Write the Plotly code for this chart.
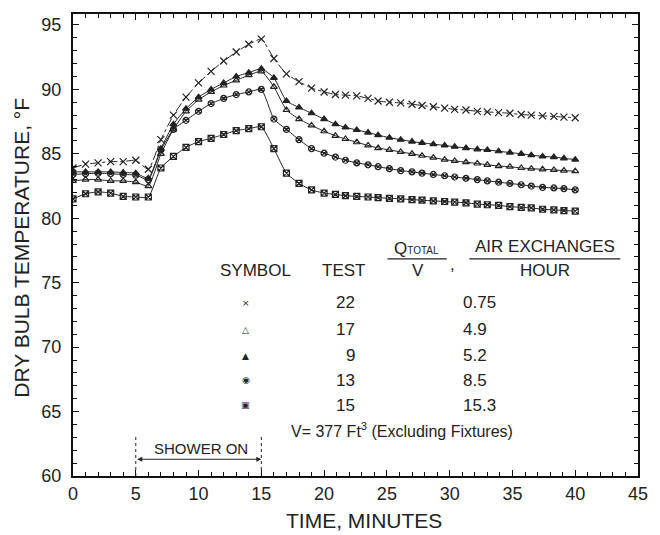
import plotly.graph_objects as go

# ---------------- data ----------------
time_min = [0, 1, 2, 3, 4, 5, 6, 7, 8, 9, 10, 11, 12, 13, 14, 15, 16, 17, 18, 19,
            20.0, 20.9, 21.7, 22.6, 23.5, 24.3, 25.2, 26.1, 27.0, 27.8, 28.7, 29.6,
            30.4, 31.3, 32.2, 33.0, 33.9, 34.8, 35.7, 36.5, 37.4, 38.3, 39.1, 40.0]

test22 = [83.9, 84.2, 84.3, 84.4, 84.4, 84.5, 83.8, 86.1, 88.0, 89.4, 90.5, 91.4, 92.2, 92.9, 93.5, 93.9,
          92.4, 91.2, 90.6, 90.1,
          89.8, 89.6, 89.55, 89.5, 89.3, 89.1, 89.0, 88.95, 88.85, 88.75, 88.65, 88.55,
          88.45, 88.4, 88.3, 88.25, 88.2, 88.15, 88.05, 88.0, 87.95, 87.9, 87.85, 87.8]

test9 = [83.6, 83.6, 83.6, 83.6, 83.55, 83.5, 83.1, 85.4, 87.3, 88.5, 89.4, 90.0, 90.5, 91.0, 91.3, 91.6,
         90.9, 89.1, 88.6, 88.15,
         87.7, 87.3, 87.05, 86.85, 86.65, 86.45, 86.25, 86.1, 85.95, 85.85, 85.75, 85.65,
         85.55, 85.45, 85.35, 85.3, 85.2, 85.1, 85.0, 84.9, 84.8, 84.75, 84.65, 84.55]

test17 = [82.9, 83.0, 83.0, 82.9, 82.9, 82.8, 82.5, 85.0, 86.9, 88.3, 89.2, 89.8, 90.3, 90.7, 91.1, 91.4,
          90.2, 88.4, 87.7, 87.2,
          86.75, 86.4, 86.15, 85.9, 85.65, 85.45, 85.3, 85.15, 85.0, 84.85, 84.7, 84.55,
          84.45, 84.35, 84.25, 84.15, 84.05, 84.0, 83.9, 83.85, 83.8, 83.75, 83.7, 83.65]

test13 = [83.4, 83.45, 83.5, 83.45, 83.4, 83.35, 83.0, 85.3, 86.9, 87.6, 88.3, 88.9, 89.3, 89.6, 89.8, 90.0,
          87.7, 86.9, 86.1, 85.4,
          85.05, 84.75, 84.5, 84.3, 84.15, 84.0, 83.85, 83.7, 83.6, 83.5, 83.4, 83.3,
          83.2, 83.1, 83.0, 82.9, 82.8, 82.7, 82.6, 82.5, 82.4, 82.35, 82.3, 82.2]

test15 = [81.5, 81.9, 82.05, 81.95, 81.7, 81.65, 81.65, 83.9, 84.8, 85.5, 85.95, 86.2, 86.5, 86.8, 86.95, 87.1,
          85.4, 83.5, 82.7, 82.2,
          81.95, 81.85, 81.75, 81.7, 81.65, 81.6, 81.55, 81.5, 81.45, 81.4, 81.35, 81.3,
          81.25, 81.2, 81.1, 81.05, 81.0, 80.9, 80.85, 80.8, 80.7, 80.65, 80.6, 80.55]

legend_tests = ["22", "17", "9", "13", "15"]
legend_ach = ["0.75", "4.9", "5.2", "8.5", "15.3"]
legend_symbols = ["×", "△", "▲", "◉", "▣"]

x_ticks = [0, 5, 10, 15, 20, 25, 30, 35, 40, 45]
y_ticks = [60, 65, 70, 75, 80, 85, 90, 95]

# ---------------- figure ----------------
INK = "#222222"
FONT = "Liberation Sans"
W, H = 660, 535
L, R, T, B = 73, 14, 12, 59


def px(xp):
    return (xp - L) / (W - L - R)


def py(yp):
    return (H - B - yp) / (H - T - B)


def label(text, xp, yp, size=17, xanchor="center", **kw):
    return dict(text=text, x=px(xp), y=py(yp), xref="paper", yref="paper",
                xanchor=xanchor, yanchor="middle", showarrow=False,
                font=dict(family=kw.pop("family", FONT), size=size, color=INK), **kw)


fig = go.Figure()

series = [
    (test22, "x-thin-open", "dashdot", 7),
    (test9, "triangle-up", "solid", 6),
    (test17, "triangle-up-open", "solid", 6),
    (test13, "circle-x-open", "solid", 6),
    (test15, "square-x-open", "solid", 6),
]
for vals, sym, dash, size in series:
    fig.add_trace(go.Scatter(
        x=time_min, y=vals, mode="lines+markers",
        line=dict(color=INK, width=1, dash=dash, shape="spline", smoothing=0.5),
        marker=dict(symbol=sym, size=size, color=INK, line=dict(color=INK, width=1.2)),
        showlegend=False, hoverinfo="skip"))

axis_common = dict(
    showgrid=False, zeroline=False, showline=True, linecolor="#111111", linewidth=2,
    mirror="allticks", ticks="inside", ticklen=6, tickwidth=1.2, tickcolor="#111111",
    tickfont=dict(family=FONT, size=18, color=INK),
    minor=dict(ticks="inside", ticklen=4, tickwidth=1, tickcolor="#111111", dtick=1, showgrid=False),
)

fig.update_xaxes(range=[0, 45], tickmode="array", tickvals=x_ticks,
                 ticktext=[str(v) for v in x_ticks], **axis_common)
fig.update_yaxes(range=[60, 95.85], tickmode="array", tickvals=y_ticks,
                 ticktext=[str(v) for v in y_ticks], ticklabelstandoff=6, **axis_common)

annotations = []
# axis titles
annotations.append(label("TIME, MINUTES", 368, 521, size=21))
annotations.append(label("DRY BULB TEMPERATURE, °F", 21, 247, size=21, textangle=-90))

# table header
annotations.append(label("SYMBOL", 258, 270))
annotations.append(label("TEST", 347, 270))
annotations.append(label("Q<span style='font-size:10px'>TOTAL</span>", 421, 248))
annotations.append(label("V", 423, 270))
annotations.append(label(",", 458, 264))
annotations.append(label("AIR EXCHANGES", 552, 246))
annotations.append(label("HOUR", 552, 270))

rows_y = [302, 329, 355, 380, 405]
for ry, sym, tst, ach in zip(rows_y, legend_symbols, legend_tests, legend_ach):
    annotations.append(label(sym, 248, ry, size=9, family="DejaVu Sans"))
    annotations.append(label(tst, 361, ry, xanchor="right"))
    annotations.append(label(ach, 467, ry, xanchor="left"))

annotations.append(label("V= 377 Ft<sup>3</sup> (Excluding Fixtures)", 292, 430, size=16, xanchor="left"))

# shower on bracket
annotations.append(dict(text="SHOWER ON", x=10.2, y=62.1, xref="x", yref="y", showarrow=False,
                        xanchor="center", yanchor="middle",
                        font=dict(family=FONT, size=15, color=INK)))
annotations.append(dict(text="", x=15, y=61.3, ax=5, ay=61.3, xref="x", yref="y", axref="x", ayref="y",
                        showarrow=True, arrowhead=2, arrowside="end+start", arrowsize=1,
                        arrowwidth=1, arrowcolor=INK))

fig.update_layout(annotations=annotations)

shapes = [
    dict(type="line", xref="paper", yref="paper", x0=px(392), x1=px(452), y0=py(258), y1=py(258),
         line=dict(color=INK, width=1.2)),
    dict(type="line", xref="paper", yref="paper", x0=px(475), x1=px(628), y0=py(258), y1=py(258),
         line=dict(color=INK, width=1.2)),
    dict(type="line", xref="x", yref="y", x0=5, x1=5, y0=60, y1=63.1,
         line=dict(color=INK, width=1, dash="dot")),
    dict(type="line", xref="x", yref="y", x0=15, x1=15, y0=60, y1=63.1,
         line=dict(color=INK, width=1, dash="dot")),
]
fig.update_layout(shapes=shapes)

fig.update_layout(
    width=W, height=H,
    margin=dict(l=L, r=R, t=T, b=B, pad=0),
    paper_bgcolor="white", plot_bgcolor="white",
    font=dict(family=FONT, color=INK),
)

fig.write_html("out.html")
